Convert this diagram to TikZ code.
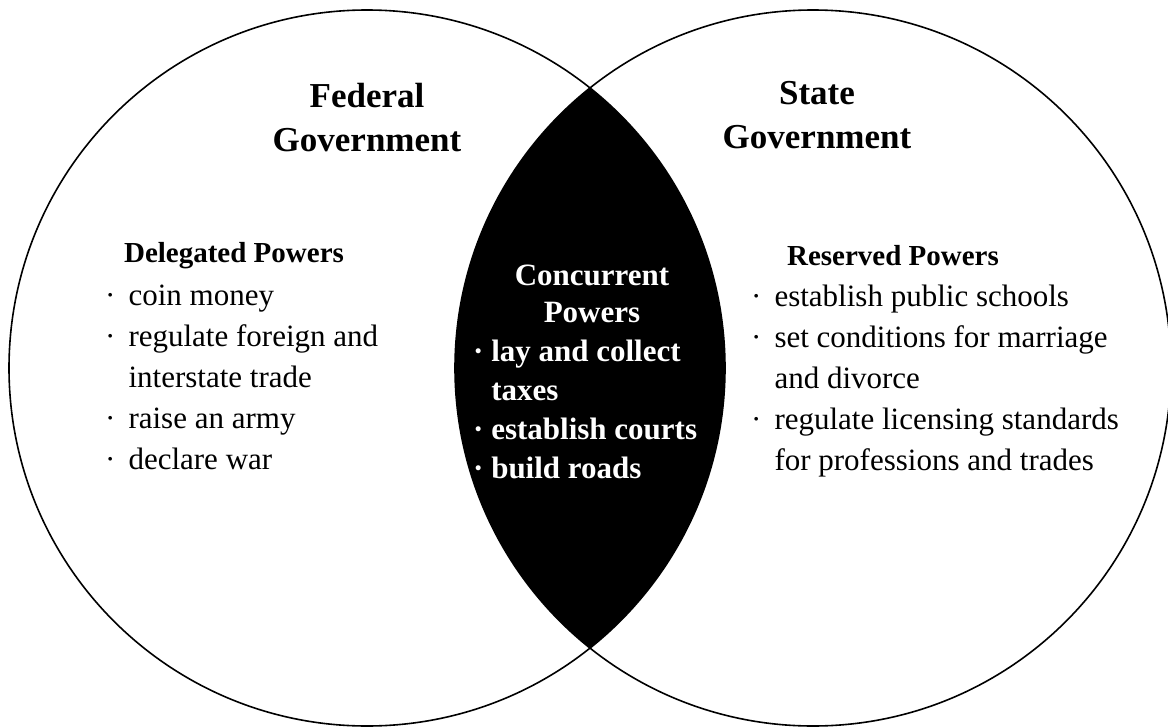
\documentclass[tikz,border=0pt]{standalone}
\usepackage{fontspec}
\setmainfont{Liberation Serif}
\newcommand{\bul}{·\hspace{0.42em}}
\newcommand{\cont}{\hphantom{·\hspace{0.42em}}}
\newcommand{\wbul}{·\ }
\newcommand{\wcont}{\hphantom{·\ }}
\tikzset{
	title/.style={font=\bfseries\fontsize{35}{44}\selectfont, align=center, inner sep=0pt},
	head/.style={font=\bfseries\fontsize{29}{36}\selectfont, inner sep=0pt},
	items/.style={font=\fontsize{31}{41}\selectfont, align=left, anchor=north west, inner sep=0pt},
}
\begin{document}
\begin{tikzpicture}[x=1pt,y=-1pt,line join=round,line cap=round]
	\useasboundingbox (0,0) rectangle (1168,726);
	\coordinate (fed) at (367,368);
	\coordinate (state) at (813,368);

	% shaded overlap
	\begin{scope}
		\clip (fed) circle [radius=358pt];
		\fill[black] (state) circle [radius=358pt];
	\end{scope}
	\draw[line width=1.6pt] (fed) circle [radius=358pt];
	\draw[line width=1.6pt] (state) circle [radius=358pt];

	\node[title] (fedtitle) at (367,118) {Federal\\Government};
	\node[title] (statetitle) at (817,115) {State\\Government};

	% left circle
	\node[head] (delhead) at (234,256) {Delegated Powers};
	\node[items] (dellist) at (105,285) {\bul coin money\\\bul regulate foreign and\\\cont interstate trade\\\bul raise an army\\\bul declare war};

	% overlap
	\node[head,text=white,align=center,font=\bfseries\fontsize{31}{37}\selectfont] (conhead) at (592,294) {Concurrent\\Powers};
	\node[items,text=white,font=\bfseries\fontsize{31}{39}\selectfont] (conlist) at (473,340) {\wbul lay and collect\\\wcont taxes\\\wbul establish courts\\\wbul build roads};

	% right circle
	\node[head] (reshead) at (893,256) {Reserved Powers};
	\node[items] (reslist) at (751,285) {\bul establish public schools\\\bul set conditions for marriage\\\cont and divorce\\\bul regulate licensing standards\\\cont for professions and trades};
\end{tikzpicture}
\end{document}
